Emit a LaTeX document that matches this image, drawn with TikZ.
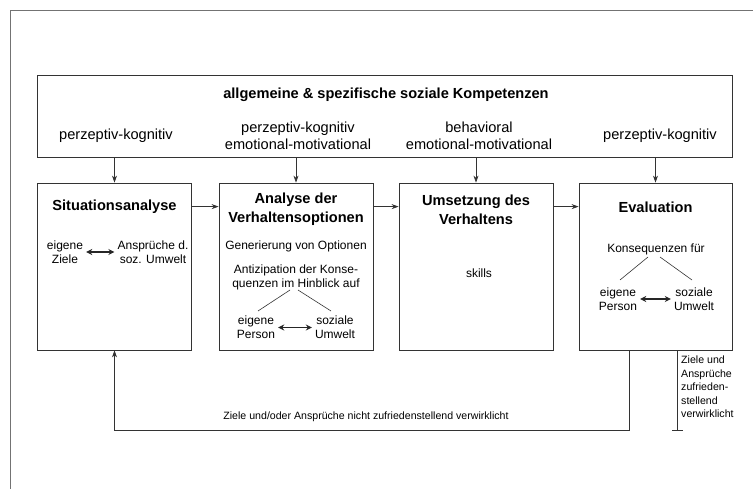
\documentclass[tikz,border=0pt]{standalone}
\usepackage{fontspec}
\setmainfont{Liberation Sans}
\usetikzlibrary{arrows.meta,calc}

\tikzset{
  panel/.style={draw=black!80, line width=0.8pt, rectangle, inner sep=0pt},
  stage/.style={panel, minimum width=154pt, minimum height=167pt},
  arr/.style={draw=black!80, line width=0.7pt, -{Stealth[length=7pt,width=5pt]}},
  dbl/.style={draw=black!85, line width=1.4pt, {Stealth[length=6pt,width=6pt]}-{Stealth[length=6pt,width=6pt]}},
  thin/.style={draw=black!80, line width=0.6pt},
  head/.style={font=\fontsize{14.6}{19}\selectfont\bfseries, align=center, inner sep=0pt},
  lab/.style={font=\fontsize{14.6}{17.5}\selectfont, align=center, inner sep=0pt},
  body/.style={font=\fontsize{12}{14}\selectfont, align=center, inner sep=0pt},
  small/.style={font=\fontsize{10.6}{13.5}\selectfont, align=left, inner sep=0pt},
}

\begin{document}
\begin{tikzpicture}[x=1pt,y=-1pt]
\useasboundingbox (0,0) rectangle (753,489);

% page frame
\draw[black!55, line width=0.6pt] (753,10) -- (10,10) -- (10,489);

% competence panel
\node[panel, minimum width=695pt, minimum height=82pt] (top) at (384.5,116) {};
\node[head] (title) at (386,95) {allgemeine \& spezifische soziale Kompetenzen};
\node[lab] (c1) at (116,136) {perzeptiv-kognitiv};
\node[lab] (c2) at (298,136) {perzeptiv-kognitiv\\emotional-motivational};
\node[lab] (c3) at (479,136) {behavioral\\emotional-motivational};
\node[lab] (c4) at (660,136) {perzeptiv-kognitiv};

% process stages
\node[stage] (s1) at (114.5,266.5) {};
\node[stage] (s2) at (296,266.5) {};
\node[stage] (s3) at (476,266.5) {};
\node[stage, minimum width=153pt] (s4) at (655.5,266.5) {};

\foreach \s in {s1,s2,s3,s4}
  \draw[arr] (\s.north |- top.south) -- (\s.north);

\draw[arr] ($(s1.north east)+(0,24)$) -- ($(s2.north west)+(0,24)$);
\draw[arr] ($(s2.north east)+(0,24)$) -- ($(s3.north west)+(0,24)$);
\draw[arr] ($(s3.north east)+(0,24)$) -- ($(s4.north west)+(0,24)$);

% stage 1
\node[head] (h1) at (114.5,207) {Situationsanalyse};
\node[body] (z1) at (65,252) {eigene\\Ziele};
\node[body] (a1) at (153,252) {Ansprüche d.\\soz. Umwelt};
\draw[dbl] ($(z1.east)+(3,0)$) -- ($(a1.west)+(-3,0)$);

% stage 2
\node[head] (h2) at (296,209.5) {Analyse der\\Verhaltensoptionen};
\node[body] (g2) at (296,246) {Generierung von Optionen};
\node[body] (k2) at (296,277.5) {Antizipation der Konse-\\quenzen im Hinblick auf};
\node[body] (p2) at (256,327.5) {eigene\\Person};
\node[body] (u2) at (335,327.5) {soziale\\Umwelt};
\draw[thin] (290,290) -- (258,311);
\draw[thin] (298,290) -- (331,311);
\draw[dbl] ($(p2.east)+(3,0)$) -- ($(u2.west)+(-3,0)$);

% stage 3
\node[head] (h3) at (476,209.5) {Umsetzung des\\Verhaltens};
\node[body] (sk) at (479,273) {skills};

% stage 4
\node[head] (h4) at (655.5,207) {Evaluation};
\node[body] (k4) at (656,249) {Konsequenzen für};
\node[body] (p4) at (618,299) {eigene\\Person};
\node[body] (u4) at (694,299) {soziale\\Umwelt};
\draw[thin] (648,257) -- (620,280);
\draw[thin] (660,257) -- (692,280);
\draw[dbl] ($(p4.east)+(3,0)$) -- ($(u4.west)+(-3,0)$);

% feedback loop
\coordinate (fb) at (629,430);
\draw[arr] (s4.south -| fb) -- (fb) -| (s1.south);
\node[font=\fontsize{10.6}{13}\selectfont, inner sep=0pt] (fbl) at (366,417) {Ziele und/oder Ansprüche nicht zufriedenstellend verwirklicht};

% exit
\coordinate (ok) at (677,430);
\draw[thin] (s4.south -| ok) -- (ok);
\draw[thin] ($(ok)+(-5,0)$) -- ($(ok)+(6,0)$);
\node[small, anchor=north west] (okl) at (681,356) {Ziele und\\Ansprüche\\zufrieden-\\stellend\\verwirklicht};
\end{tikzpicture}
\end{document}
